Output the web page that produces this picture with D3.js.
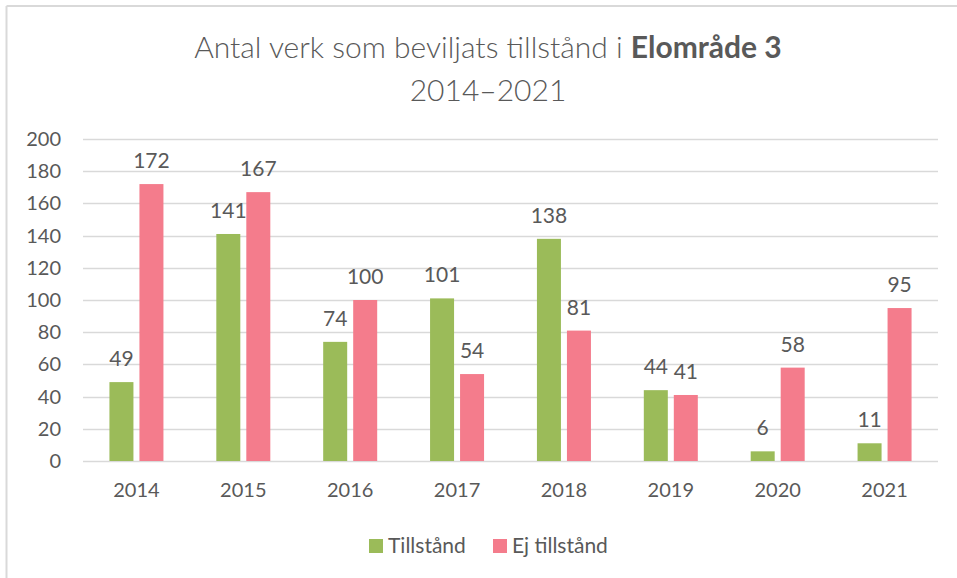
<!DOCTYPE html>
<head>
  <title>Elområde 3</title>
  <meta charset="utf-8">
  <script src="https://d3js.org/d3.v7.min.js"></script>
  <style>
    body { margin: 0; background: #fff; }
    text { font-family: Lato, "Open Sans", sans-serif; fill: #595959; }
    .grid line { stroke: #d9d9d9; stroke-width: 1.3; }
  </style>
</head>
<body>
<div class="container"></div>
<script>
'use strict';
var width = 957, height = 578;

var years = ['2014', '2015', '2016', '2017', '2018', '2019', '2020', '2021'];
var tillstand = [49, 141, 74, 101, 138, 44, 6, 11];
var ejTillstand = [172, 167, 100, 54, 81, 41, 58, 95];
var yTicks = [0, 20, 40, 60, 80, 100, 120, 140, 160, 180, 200];
var seriesNames = ['Tillstånd', 'Ej tillstånd'];
var colors = ['#9bbb59', '#f47c8c'];

var svg = d3.select('.container').append('svg')
  .attr('width', width).attr('height', height);

// frame
svg.append('line').attr('x1', 6.5).attr('x2', width).attr('y1', 6).attr('y2', 6)
  .attr('stroke', '#d9d9d9').attr('stroke-width', 2);
svg.append('line').attr('x1', 6.5).attr('x2', 6.5).attr('y1', 6).attr('y2', height)
  .attr('stroke', '#d9d9d9').attr('stroke-width', 2);

// title
var title = svg.append('text').attr('x', 488).attr('y', 58)
  .attr('text-anchor', 'middle').style('font-size', '30px').style('font-weight', 300);
title.append('tspan').text('Antal verk som beviljats tillstånd i ');
title.append('tspan').style('font-weight', 'bold').text('Elområde 3');
svg.append('text').attr('x', 488).attr('y', 101).attr('text-anchor', 'middle')
  .style('font-size', '30px').style('font-weight', 300).text('2014–2021');

var plotLeft = 83, plotRight = 938, plotTop = 139, plotBottom = 461;
var x = d3.scaleBand().domain(years).range([plotLeft, plotRight]);
var y = d3.scaleLinear().domain([0, 200]).range([plotBottom, plotTop]);

// gridlines
svg.append('g').attr('class', 'grid')
  .selectAll('line').data(yTicks).enter().append('line')
  .attr('x1', plotLeft).attr('x2', plotRight)
  .attr('y1', function (d) { return Math.round(y(d)) + 0.5; })
  .attr('y2', function (d) { return Math.round(y(d)) + 0.5; });

// y axis labels
var yAxis = svg.append('g')
  .attr('transform', 'translate(' + (plotLeft - 22) + ',0)')
  .call(d3.axisLeft(y).tickValues(yTicks).tickSize(0).tickPadding(0));
yAxis.select('.domain').remove();
yAxis.selectAll('text').attr('fill', '#595959').style('font-size', '20px')
  .style('font-family', 'Lato, "Open Sans", sans-serif');

// x axis labels
var xAxis = svg.append('g')
  .attr('transform', 'translate(0,' + (plotBottom + 22) + ')')
  .call(d3.axisBottom(x).tickSize(0).tickPadding(0));
xAxis.select('.domain').remove();
xAxis.selectAll('text').attr('fill', '#595959').style('font-size', '20px')
  .style('font-family', 'Lato, "Open Sans", sans-serif');

var barW = 24, gap = 6;
var inner = d3.scaleBand().domain([0, 1]).range([0, barW * 2 + gap]).paddingInner(gap / (barW + gap));
var series = [tillstand, ejTillstand];

series.forEach(function (vals, s) {
  var g = svg.append('g');
  var off = (x.bandwidth() - (barW * 2 + gap)) / 2;
  g.selectAll('rect').data(vals).enter().append('rect')
    .attr('x', function (d, i) { return x(years[i]) + off + inner(s); })
    .attr('width', inner.bandwidth())
    .attr('y', function (d) { return y(d); })
    .attr('height', function (d) { return y(0) - y(d); })
    .attr('fill', colors[s]);
  g.selectAll('text').data(vals).enter().append('text')
    .attr('x', function (d, i) { return x(years[i]) + off + inner(s) + inner.bandwidth() / 2; })
    .attr('y', function (d) { return y(d) - 16; })
    .attr('text-anchor', 'middle')
    .style('font-size', '21px')
    .text(function (d) { return d; });
});

// legend
var legendX = [369, 493];
var legend = svg.append('g');
seriesNames.forEach(function (name, i) {
  legend.append('rect').attr('x', legendX[i]).attr('y', 539)
    .attr('width', 14).attr('height', 14).attr('fill', colors[i]);
  legend.append('text').attr('x', legendX[i] + 19).attr('y', 553)
    .style('font-size', '21px').text(name);
});
</script>
</body>
